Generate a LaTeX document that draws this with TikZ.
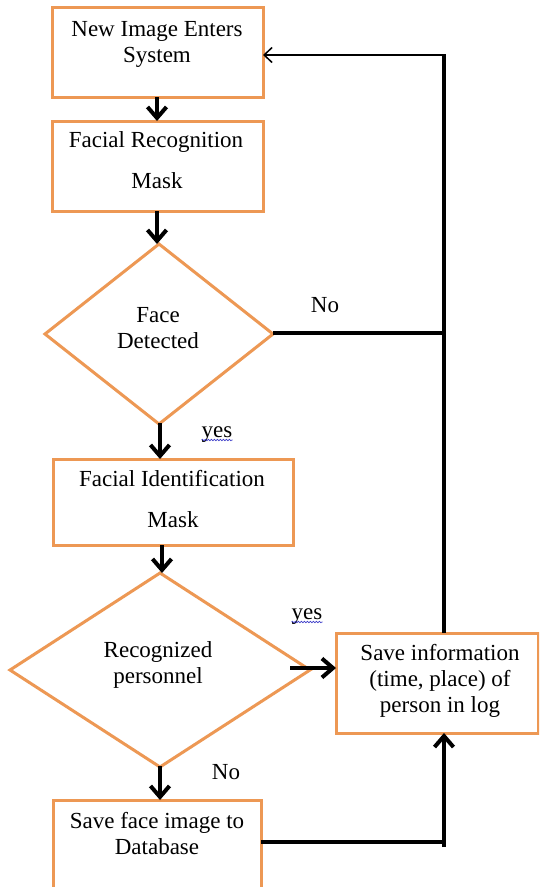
\documentclass[tikz,border=0pt]{standalone}
\usepackage{fontspec}
\setmainfont{Liberation Serif}
\usetikzlibrary{arrows.meta,shapes.geometric,decorations.pathmorphing}
\definecolor{boxorange}{RGB}{237,152,84}
\definecolor{spellblue}{RGB}{60,60,200}
\tikzset{
  procbox/.style={draw=boxorange,line width=3pt,rectangle,inner sep=0pt,outer sep=0pt},
  decbox/.style={draw=boxorange,line width=3pt,diamond,inner sep=0pt,outer sep=0pt},
  txt/.style={anchor=base,inner sep=0pt,font=\fontsize{23}{27}\selectfont},
  flow/.style={line width=4pt,-{Straight Barb[length=11pt,width=19pt,line width=4pt]}},
  plainline/.style={line width=4pt},
  thinflow/.style={line width=1.5pt,-{Straight Barb[length=8pt,width=15pt,line width=1.5pt]}},
  squig/.style={spellblue,line width=0.6pt,decorate,decoration={snake,amplitude=0.8pt,segment length=3pt}}
}
\begin{document}
\begin{tikzpicture}[x=1pt,y=-1pt]
\useasboundingbox (0,0) rectangle (539,887);
\clip (0,0) rectangle (539,887);
\fill[white] (0,0) rectangle (539,887);

% shapes
\node[procbox,minimum width=211pt,minimum height=90pt] (b1) at (157.5,52) {};
\node[procbox,minimum width=211pt,minimum height=90pt] (b2) at (157.5,166) {};
\node[decbox,minimum width=228pt,minimum height=180pt] (d1) at (159,334) {};
\node[procbox,minimum width=240pt,minimum height=86pt] (b3) at (173,502) {};
\node[decbox,minimum width=300pt,minimum height=194pt] (d2) at (160,670) {};
\node[procbox,minimum width=202pt,minimum height=100pt] (b4) at (437,683) {};
\node[procbox,minimum width=208pt,minimum height=92pt] (b5) at (157,846) {};

% texts
\node[txt] (t1a) at (157,36) {New Image Enters};
\node[txt] (t1b) at (157,62) {System};
\node[txt] (t2a) at (156,147) {Facial Recognition};
\node[txt] (t2b) at (157,188) {Mask};
\node[txt] (t3a) at (158,322) {Face};
\node[txt] (t3b) at (158,348) {Detected};
\node[txt] (t4a) at (172,486) {Facial Identification};
\node[txt] (t4b) at (173,527) {Mask};
\node[txt] (t5a) at (158,657) {Recognized};
\node[txt] (t5b) at (158,683) {personnel};
\node[txt] (t6a) at (440,660) {Save information};
\node[txt] (t6b) at (440,686) {(time, place) of};
\node[txt] (t6c) at (440,712) {person in log};
\node[txt] (t7a) at (157,828) {Save face image to};
\node[txt] (t7b) at (157,854) {Database};

% labels
\node[txt] (lno1) at (325,312) {No};
\node[txt] (lyes1) at (217,437) {yes};
\node[txt] (lyes2) at (307,619) {yes};
\node[txt] (lno2) at (226,779) {No};
\draw[squig] ([yshift=-3pt]lyes1.base west) -- ([yshift=-3pt]lyes1.base east);
\draw[squig] ([yshift=-3pt]lyes2.base west) -- ([yshift=-3pt]lyes2.base east);

% junction coordinates
\coordinate (jtop) at (444,55);
\coordinate (jmid) at (444,333);
\coordinate (jbot) at (444,842);

% connectors
\draw[flow] ([xshift=-0.5pt]b1.south) -- ([xshift=-0.5pt]b2.north);
\draw[flow] ([xshift=-0.5pt]b2.south) -- ([xshift=-2pt]d1.north);
\draw[flow] ([xshift=1pt,yshift=1pt]d1.south) -- ([xshift=-13pt]b3.north);
\draw[flow] ([xshift=-11pt]b3.south) -- ([xshift=2pt]d2.north);
\draw[flow] ([yshift=1pt]d2.south) -- ([xshift=3pt]b5.north);
\draw[flow] ([xshift=-20pt,yshift=2pt]d2.east) -- ([yshift=15pt]b4.west);
\draw[plainline] ([yshift=1pt]d1.east) -- (jmid);
\draw[plainline] (b4.north -| jmid) -- ([yshift=1pt]jtop);
\draw[thinflow] (jtop) -- (jtop -| b1.east);
\draw[plainline] (b5.east |- jbot) -- ([xshift=2pt]jbot);
\draw[flow] ([yshift=-5pt]jbot) -- (jbot |- b4.south);
\end{tikzpicture}
\end{document}
